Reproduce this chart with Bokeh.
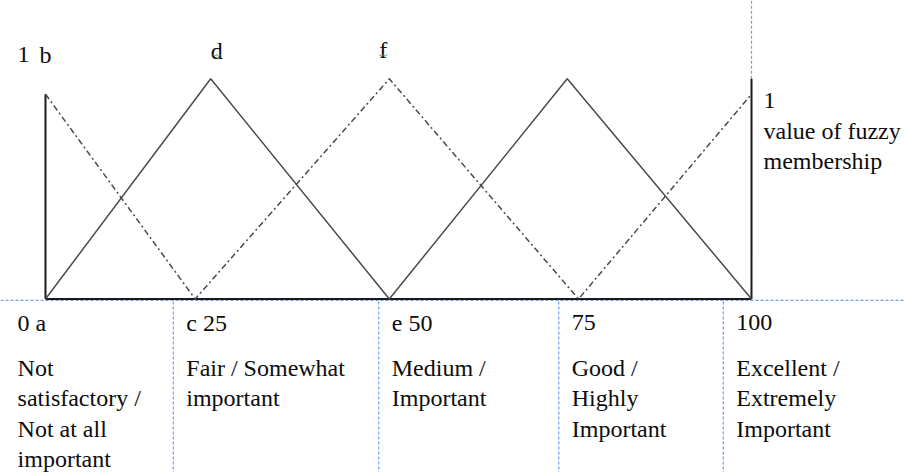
from bokeh.plotting import figure
from bokeh.models import Range1d
from bokeh.core.properties import value
from bokeh.embed import file_html
from bokeh.resources import INLINE

# ---- data ----
tick_labels = ["0 a", "c 25", "e 50", "75", "100"]
categories = ["Not\nsatisfactory /\nNot at all\nimportant",
              "Fair / Somewhat\nimportant",
              "Medium /\nImportant",
              "Good /\nHighly\nImportant",
              "Excellent /\nExtremely\nImportant"]
# solid membership triangles (x: scale 0..100, y: membership)
solid_x = [0, 23.4, 48.7, 73.9, 100]
solid_y = [0, 1, 0, 1, 0]
# dash-dot membership triangles
dashdot_x = [0, 21.2, 48.7, 75.5, 100]
dashdot_y = [0.93, 0, 1, 0, 0.93]
left_bar_top = 0.93
right_bar_top = 1.0
top_left_labels = ["1", "b"]
peak_labels = ["d", "f"]
peak_x = [23.4, 48.7]
# table column edges (scale units)
col_edges = [-5.8, 18.1, 47.2, 72.7, 96.0]

# ---- layout ----
W, H = 904, 472
PXX = 7.06   # px per x unit
PXY = 220.2  # px per membership unit
ORIG_X = 45.0   # px of x=0
ORIG_Y = 298.5  # px (from top) of y=0
X0 = -ORIG_X / PXX
X1 = X0 + W / PXX
Y1 = ORIG_Y / PXY
Y0 = Y1 - H / PXY

def dy(px_from_top):
    return (ORIG_Y - px_from_top) / PXY

p = figure(width=W, height=H, output_backend="svg", toolbar_location=None,
           x_range=Range1d(X0, X1), y_range=Range1d(Y0, Y1),
           min_border=0, outline_line_color=None)
p.axis.visible = False
p.grid.visible = False
p.background_fill_color = "white"

FONT = value("Liberation Serif")
BLUE = "#6f9fe6"
GRAY = "#4a4a4a"
BLACK = "#1a1a1a"
TXT = "#0d0d0d"

# blue dashed table borders
p.line([X0, X1], [dy(299.8), dy(299.8)], line_color=BLUE, line_width=1.2, line_dash="3 2")
for e in col_edges[1:]:
    p.line([e, e], [dy(301), Y0], line_color=BLUE, line_width=1.2, line_dash="3 2")
p.line([100, 100], [right_bar_top, Y1], line_color=BLUE, line_width=1.2, line_dash="3 2")

# axis and vertical bars
p.line([0, 100], [0, 0], line_color=BLACK, line_width=2)
p.line([0, 0], [0, left_bar_top], line_color=BLACK, line_width=2)
p.line([100, 100], [0, right_bar_top], line_color=BLACK, line_width=2)

# membership functions
p.line(solid_x, solid_y, line_color=GRAY, line_width=1.5)
p.line(dashdot_x, dashdot_y, line_color=GRAY, line_width=1.5, line_dash="6 3 2 3")

# top labels
p.text(x=[0, 0], y=[dy(54), dy(54)], text=top_left_labels, text_font=FONT,
       text_font_size="24px", text_color=TXT, text_baseline="alphabetic",
       text_align="left", x_offset=[-28, -6])
p.text(x=peak_x, y=[dy(50), dy(49)], text=peak_labels, text_font=FONT, text_font_size="24px",
       text_color=TXT, text_baseline="alphabetic", text_align="center", x_offset=[6, -6])
# spell-check squiggles under d and f
for px, off in zip(peak_x, [6, -6]):
    zx = [px + (off - 4 + 2 * k) / PXX for k in range(5)]
    zy = [dy(54 + (k % 2) * 2) for k in range(5)]
    p.line(zx, zy, line_color="#3a9a3a", line_width=1)

# right label
right_lines = ["1", "value of fuzzy", "membership"]
p.text(x=[100] * 3, y=[dy(100), dy(130), dy(160)], text=right_lines, text_font=FONT,
       text_font_size="24px", text_color=TXT, text_baseline="alphabetic",
       text_align="left", x_offset=12)

# tick labels row
p.text(x=col_edges, y=[dy(322)] * 5, text=tick_labels, text_font=FONT,
       text_font_size="24px", text_color=TXT, text_baseline="alphabetic",
       text_align="left", x_offset=13)

# category descriptions
cx, cy, ct = [], [], []
for e, cat in zip(col_edges, categories):
    for i, line in enumerate(cat.split("\n")):
        cx.append(e)
        cy.append(dy(367 + 30.5 * i))
        ct.append(line)
p.text(x=cx, y=cy, text=ct, text_font=FONT, text_font_size="24px",
       text_color=TXT, text_baseline="alphabetic", text_align="left", x_offset=13)

open("out.html", "w").write(file_html(p, INLINE))
